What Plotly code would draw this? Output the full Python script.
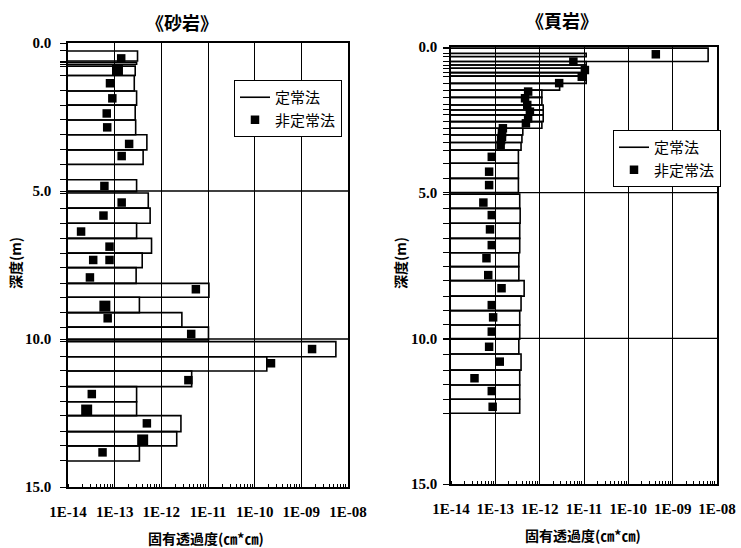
import plotly.graph_objects as go

# ---------------- data ----------------
# 砂岩 (sandstone): steady-state method intervals (top depth, bottom depth, log10 permeability)
sand_top = [0.27, 0.65, 0.78, 1.10, 1.62, 2.10, 2.60, 3.10, 3.61, 4.62, 5.07, 5.58, 6.09, 6.60, 7.10,
            7.59, 8.12, 8.59, 9.11, 9.60, 10.09, 10.60, 11.08, 11.61, 12.12, 12.59, 13.13, 13.61]
sand_bot = [0.61, 0.72, 1.10, 1.62, 2.10, 2.60, 3.10, 3.61, 4.10, 5.02, 5.58, 6.09, 6.60, 7.10, 7.59,
            8.12, 8.59, 9.11, 9.60, 10.03, 10.60, 11.08, 11.61, 12.12, 12.59, 13.13, 13.61, 14.12]
sand_logk = [-12.51, -12.53, -12.56, -12.58, -12.53, -12.56, -12.55, -12.31, -12.39, -12.53, -12.28, -12.24,
             -12.53, -12.21, -12.41, -12.54, -10.98, -12.47, -11.56, -10.99, -8.26, -9.74, -11.35, -12.53,
             -12.53, -11.58, -11.67, -12.47]
# unsteady method points
sand_pt_depth = [0.52, 1.36, 1.87, 2.38, 2.85, 3.41, 3.82, 4.83, 5.39, 5.83, 6.37, 6.88, 7.33, 7.33, 7.92,
                 8.32, 9.30, 9.83, 10.34, 10.82, 11.39, 11.86, 12.85, 13.83]
sand_pt_logk = [-12.86, -13.10, -13.05, -13.17, -13.16, -12.69, -12.85, -13.22, -12.85, -13.24, -13.72, -13.11,
                -13.46, -13.11, -13.53, -11.26, -13.15, -11.36, -8.77, -9.65, -11.42, -13.49, -12.31, -13.26]
sand_big_depth = [0.91, 8.89, 12.40, 13.41]
sand_big_logk = [-12.94, -13.21, -13.60, -12.40]

# 頁岩 (shale)
shale_top = [0.04, 0.22, 0.50, 0.62, 0.73, 0.88, 1.00, 1.25, 1.48, 1.73, 1.99, 2.16, 2.33, 2.56, 2.79, 3.02,
             3.28, 3.54, 3.99, 4.51, 5.05, 5.54, 6.05, 6.57, 7.06, 7.54, 8.02, 8.55, 9.05, 9.54, 10.03,
             10.54, 11.09, 11.60, 12.09]
shale_bot = [0.50, 0.33, 0.62, 0.73, 0.88, 1.00, 1.25, 1.48, 1.73, 1.99, 2.16, 2.33, 2.56, 2.79, 3.02, 3.28,
             3.54, 3.99, 4.51, 5.00, 5.54, 6.05, 6.57, 7.06, 7.54, 8.02, 8.55, 9.05, 9.54, 10.03, 10.54,
             11.09, 11.60, 12.09, 12.57]
shale_logk = [-8.20, -10.95, -10.95, -10.95, -10.95, -10.95, -10.95, -11.55, -11.95, -11.95, -11.92, -11.92,
              -11.92, -11.95, -12.38, -12.40, -12.42, -12.48, -12.48, -12.48, -12.45, -12.44, -12.45, -12.45,
              -12.47, -12.47, -12.35, -12.42, -12.45, -12.45, -12.47, -12.42, -12.45, -12.45, -12.45]
shale_pt_depth = [0.25, 0.50, 0.79, 1.02, 1.24, 1.53, 1.76, 1.99, 2.22, 2.45, 2.62, 2.79, 2.95, 3.08, 3.20,
                  3.36, 3.77, 4.28, 4.74, 5.34, 5.77, 6.26, 6.80, 7.25, 7.83, 8.28, 8.86, 9.28, 9.77, 10.29,
                  10.80, 11.37, 11.81, 12.35]
shale_pt_logk = [-9.38, -11.24, -10.98, -11.05, -11.56, -12.26, -12.33, -12.28, -12.22, -12.26, -12.31, -12.83,
                 -12.85, -12.85, -12.87, -12.88, -13.08, -13.14, -13.14, -13.27, -13.08, -13.12, -13.08, -13.20,
                 -13.16, -12.86, -13.08, -13.05, -13.08, -13.14, -12.90, -13.47, -13.08, -13.06]

x_tick_exp = [-14, -13, -12, -11, -10, -9, -8]
x_tick_text = ["1E-14", "1E-13", "1E-12", "1E-11", "1E-10", "1E-09", "1E-08"]
y_major = [0, 5, 10, 15]
y_major_text = ["0.0", "5.0", "10.0", "15.0"]

titles = ["《砂岩》", "《頁岩》"]
x_title = "固有透過度(㎝*㎝)"
y_title = "深度(m)"
legend_names = ["定常法", "非定常法"]

# ---------------- figure ----------------
TXT = "Noto Sans CJK JP"
NUM = "Liberation Serif"
XMIN = 10 ** x_tick_exp[0]


def rect_path(tops, bots, logks):
    xs, ys = [], []
    for t, b, k in zip(tops, bots, logks):
        v = 10 ** k
        xs += [XMIN, v, v, XMIN, None]
        ys += [t, t, b, b, None]
    return xs, ys


fig = go.Figure()

panels = [
    dict(top=sand_top, bot=sand_bot, k=sand_logk, pd=sand_pt_depth, pk=sand_pt_logk,
         bd=sand_big_depth, bk=sand_big_logk, xa="x", ya="y", leg="legend"),
    dict(top=shale_top, bot=shale_bot, k=shale_logk, pd=shale_pt_depth, pk=shale_pt_logk,
         bd=[], bk=[], xa="x2", ya="y2", leg="legend2"),
]

for p in panels:
    xs, ys = rect_path(p["top"], p["bot"], p["k"])
    fig.add_trace(go.Scatter(x=xs, y=ys, mode="lines", name=legend_names[0],
                             line=dict(color="black", width=1.6), xaxis=p["xa"], yaxis=p["ya"],
                             legend=p["leg"]))
    fig.add_trace(go.Scatter(x=[10 ** k for k in p["pk"]], y=p["pd"], mode="markers", name=legend_names[1],
                             marker=dict(symbol="square", color="black", size=8.5), xaxis=p["xa"],
                             yaxis=p["ya"], legend=p["leg"]))
    if p["bd"]:
        fig.add_trace(go.Scatter(x=[10 ** k for k in p["bk"]], y=p["bd"], mode="markers", showlegend=False,
                                 marker=dict(symbol="square", color="black", size=11), xaxis=p["xa"],
                                 yaxis=p["ya"]))


def xaxis_cfg(domain, anchor):
    return dict(type="log", domain=domain, anchor=anchor, range=[x_tick_exp[0], x_tick_exp[-1]],
                tickmode="array", tickvals=[10 ** e for e in x_tick_exp], ticktext=x_tick_text,
                showgrid=True, gridcolor="black", gridwidth=1.3, showline=True, mirror=True,
                linecolor="black", linewidth=1.5, ticks="", zeroline=False, automargin=False,
                minor=dict(ticks="inside", ticklen=3, tickcolor="black", tickwidth=1, dtick="D1",
                           showgrid=False),
                tickfont=dict(family=NUM, size=15, color="black", weight="bold"), ticklabelstandoff=10)


def yaxis_cfg(domain, anchor, tops, bots, standoff):
    bounds = sorted(set(tops) | set(bots))
    vals = list(y_major) + bounds
    text = list(y_major_text) + [""] * len(bounds)
    return dict(domain=domain, anchor=anchor, range=[y_major[-1], y_major[0]], tickmode="array",
                tickvals=vals, ticktext=text, ticks="outside", ticklen=6, tickwidth=1.4, tickcolor="black",
                showgrid=False, showline=True, mirror=True, linecolor="black", linewidth=1.5, zeroline=False,
                automargin=False,
                tickfont=dict(family=NUM, size=15, color="black", weight="bold"), ticklabelstandoff=standoff)


fig.update_layout(
    width=741, height=548, margin=dict(l=0, r=0, t=0, b=0, autoexpand=False),
    paper_bgcolor="white", plot_bgcolor="white", showlegend=True,
    xaxis=xaxis_cfg([68 / 741, 348 / 741], "y"),
    yaxis=yaxis_cfg([1 - 487 / 548, 1 - 43 / 548], "x", sand_top, sand_bot, 6),
    xaxis2=xaxis_cfg([451 / 741, 717 / 741], "y2"),
    yaxis2=yaxis_cfg([1 - 484 / 548, 1 - 47 / 548], "x2", shale_top, shale_bot, 3),
    legend=dict(x=234 / 741, y=1 - 80 / 548, xanchor="left", yanchor="top", bgcolor="white",
                bordercolor="black", borderwidth=1, font=dict(family=TXT, size=15, color="black"),
                itemwidth=30, tracegroupgap=0),
    legend2=dict(x=613 / 741, y=1 - 130 / 548, xanchor="left", yanchor="top", bgcolor="white",
                 bordercolor="black", borderwidth=1, font=dict(family=TXT, size=15, color="black"),
                 itemwidth=30, tracegroupgap=0),
)

# horizontal grid lines at the major depth ticks (inside range)
for xr, yr in [("x domain", "y"), ("x2 domain", "y2")]:
    for v in y_major[1:-1]:
        fig.add_shape(type="line", xref=xr, yref=yr, x0=0, x1=1, y0=v, y1=v,
                      line=dict(color="black", width=1.3), layer="above")

annos = [
    dict(text=titles[0], x=182 / 741, y=1 - 22 / 548, size=18, angle=0),
    dict(text=titles[1], x=562 / 741, y=1 - 20 / 548, size=18, angle=0),
    dict(text=y_title, x=15 / 741, y=1 - 263 / 548, size=14, angle=-90),
    dict(text=y_title, x=400 / 741, y=1 - 263 / 548, size=14, angle=-90),
    dict(text=x_title, x=206 / 741, y=1 - 538 / 548, size=14, angle=0),
    dict(text=x_title, x=583 / 741, y=1 - 535 / 548, size=14, angle=0),
]
for a in annos:
    fig.add_annotation(text=a["text"], x=a["x"], y=a["y"], xref="paper", yref="paper", showarrow=False,
                       xanchor="center", yanchor="middle", textangle=a["angle"],
                       font=dict(family=TXT, size=a["size"], color="black", weight="bold"))

fig.write_html("out.html")
